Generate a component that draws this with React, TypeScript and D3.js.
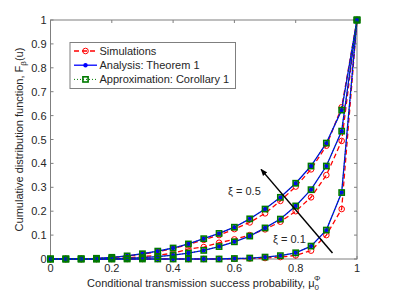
import React from "react";
import * as d3 from "d3";

const xs = [0, 0.05, 0.1, 0.15, 0.2, 0.25, 0.3, 0.35, 0.4, 0.45, 0.5, 0.55, 0.6, 0.65, 0.7, 0.75, 0.8, 0.85, 0.9, 0.95, 1];

// xi = 0.5
const anaTop = [0, 0, 0.001, 0.003, 0.007, 0.013, 0.022, 0.033, 0.046, 0.063, 0.085, 0.107, 0.133, 0.168, 0.209, 0.258, 0.317, 0.389, 0.485, 0.623, 1];
const simTop = [0, 0, 0, 0.002, 0.006, 0.012, 0.02, 0.03, 0.044, 0.06, 0.08, 0.1, 0.125, 0.153, 0.191, 0.243, 0.303, 0.375, 0.474, 0.635, 1];
const appTop = [0, 0, 0.001, 0.003, 0.007, 0.013, 0.022, 0.033, 0.046, 0.063, 0.085, 0.107, 0.133, 0.168, 0.209, 0.258, 0.317, 0.389, 0.485, 0.623, 1];
// xi = 0.3
const anaMid = [0, 0, 0, 0, 0.001, 0.003, 0.006, 0.01, 0.016, 0.025, 0.036, 0.052, 0.072, 0.096, 0.13, 0.167, 0.222, 0.29, 0.389, 0.535, 1];
const simMid = [0, 0, 0, 0, 0.002, 0.005, 0.01, 0.016, 0.024, 0.042, 0.05, 0.068, 0.082, 0.1, 0.124, 0.156, 0.2, 0.258, 0.351, 0.494, 1];
const appMid = [0, 0, 0, 0, 0.001, 0.003, 0.006, 0.01, 0.016, 0.025, 0.036, 0.052, 0.072, 0.096, 0.13, 0.167, 0.222, 0.29, 0.389, 0.535, 1];
// xi = 0.1
const anaBot = [0, 0, 0, 0, 0, 0, 0, 0, 0, 0, 0, 0, 0.002, 0.004, 0.008, 0.014, 0.026, 0.054, 0.121, 0.278, 1];
const simBot = [0, 0, 0, 0, 0, 0, 0, 0, 0, 0, 0, 0, 0.001, 0.002, 0.004, 0.008, 0.015, 0.035, 0.1, 0.209, 1];
const appBot = [0, 0, 0, 0, 0, 0, 0, 0, 0, 0, 0, 0, 0.002, 0.004, 0.008, 0.014, 0.026, 0.054, 0.121, 0.278, 1];

const xTicks = [0, 0.2, 0.4, 0.6, 0.8, 1];
const yTicks = [0, 0.1, 0.2, 0.3, 0.4, 0.5, 0.6, 0.7, 0.8, 0.9, 1];
const legendLabels = ["Simulations", "Analysis: Theorem 1", "Approximation: Corollary 1"];

const FONT = "'Liberation Sans', Arial, Helvetica, sans-serif";
const TXT = "#262626";
const GREEN = "#007a00";

export default function App() {
  const W = 395, H = 296;
  const L = 50.5, R = 357, T = 20, B = 259;
  const x = d3.scaleLinear().domain([0, 1]).range([L, R]);
  const y = d3.scaleLinear().domain([0, 1]).range([B, T]);
  const line = d3.line<number>().x((_, i) => x(xs[i])).y((d) => y(d));

  const sims = [simTop, simMid, simBot];
  const anas = [anaTop, anaMid, anaBot];
  const apps = [appTop, appMid, appBot];

  const ax0 = x(0.92), ay0 = y(0.025), ax1 = x(0.687), ay1 = y(0.375);

  return (
    <svg width={W} height={H} style={{ position: "absolute", left: 0, top: 0 }} fontFamily={FONT}>
      <defs>
        <marker id="ah" viewBox="0 0 10 10" refX="9" refY="5" markerWidth="7" markerHeight="7" orient="auto" markerUnits="userSpaceOnUse">
          <path d="M0,1 L10,5 L0,9 z" fill="#000" />
        </marker>
      </defs>
      <rect x={0} y={0} width={W} height={H} fill="#fff" />
      <rect x={L} y={T} width={R - L} height={B - T} fill="#fff" stroke="#7f7f7f" strokeWidth={1} />
      {xTicks.map((t) => (
        <g key={"xt" + t}>
          <line x1={x(t)} x2={x(t)} y1={B} y2={B - 3} stroke="#7f7f7f" />
          <line x1={x(t)} x2={x(t)} y1={T} y2={T + 3} stroke="#7f7f7f" />
          <text x={x(t)} y={B + 13} textAnchor="middle" fontSize={11} fill={TXT}>{String(t)}</text>
        </g>
      ))}
      {yTicks.map((t) => (
        <g key={"yt" + t}>
          <line x1={L} x2={L + 3} y1={y(t)} y2={y(t)} stroke="#7f7f7f" />
          <line x1={R} x2={R - 3} y1={y(t)} y2={y(t)} stroke="#7f7f7f" />
          <text x={L - 4} y={y(t) + 4} textAnchor="end" fontSize={11} fill={TXT}>{String(t)}</text>
        </g>
      ))}
      {sims.map((s, k) => (
        <g key={"s" + k}>
          <path d={line(s) || ""} fill="none" stroke="#ff0000" strokeWidth={1.3} strokeDasharray="5,3" />
          {s.map((v, i) => (
            <circle key={i} cx={x(xs[i])} cy={y(v)} r={2.8} fill="none" stroke="#ff0000" strokeWidth={1} />
          ))}
        </g>
      ))}
      {anas.map((s, k) => (
        <g key={"a" + k}>
          <path d={line(s) || ""} fill="none" stroke="#0000ff" strokeWidth={1.3} />
          {s.map((v, i) => (
            <circle key={i} cx={x(xs[i])} cy={y(v)} r={2.2} fill="#0000ff" />
          ))}
        </g>
      ))}
      {apps.map((s, k) => (
        <g key={"p" + k}>
          <path d={line(s) || ""} fill="none" stroke={GREEN} strokeWidth={1} strokeDasharray="1,2" />
          {s.map((v, i) => (
            <rect key={i} x={x(xs[i]) - 2.6} y={y(v) - 2.6} width={5.2} height={5.2} fill="none" stroke={GREEN} strokeWidth={1.6} />
          ))}
        </g>
      ))}
      <line x1={ax0} y1={ay0} x2={ax1} y2={ay1} stroke="#000" strokeWidth={1.5} markerEnd="url(#ah)" />
      <text x={228} y={195} fontSize={11} fill={TXT}>ξ = 0.5</text>
      <text x={273} y={243} fontSize={11} fill={TXT}>ξ = 0.1</text>

      <rect x={70} y={42.5} width={165.5} height={46} fill="#fff" stroke="#7f7f7f" strokeWidth={1} />
      {legendLabels.map((lab, i) => {
        const ly = 51 + i * 14.2;
        return (
          <g key={lab}>
            {i === 0 && (
              <>
                <line x1={74} x2={97} y1={ly} y2={ly} stroke="#ff0000" strokeWidth={1.3} strokeDasharray="5,3" />
                <circle cx={85.5} cy={ly} r={2.8} fill="none" stroke="#ff0000" />
              </>
            )}
            {i === 1 && (
              <>
                <line x1={74} x2={97} y1={ly} y2={ly} stroke="#0000ff" strokeWidth={1.3} />
                <circle cx={85.5} cy={ly} r={2.2} fill="#0000ff" />
              </>
            )}
            {i === 2 && (
              <>
                <line x1={74} x2={97} y1={ly} y2={ly} stroke={GREEN} strokeWidth={1} strokeDasharray="1,2" />
                <rect x={85.5 - 2.6} y={ly - 2.6} width={5.2} height={5.2} fill="none" stroke={GREEN} strokeWidth={1.6} />
              </>
            )}
            <text x={99.5} y={ly + 4} fontSize={11} fill={TXT}>{lab}</text>
          </g>
        );
      })}

      <text x={(L + R) / 2} y={287} textAnchor="middle" fontSize={11} fill={TXT}>
        Conditional transmission success probability, μ
        <tspan fontSize={8} dy={3}>0</tspan>
        <tspan fontSize={8} dx={-5} dy={-9}>Φ</tspan>
      </text>
      <text transform={`translate(${23},${(T + B) / 2}) rotate(-90)`} textAnchor="middle" fontSize={11} fill={TXT}>
        Cumulative distribution function, F
        <tspan fontSize={8} dy={3}>β</tspan>
        <tspan dy={-3}>(u)</tspan>
      </text>
    </svg>
  );
}
